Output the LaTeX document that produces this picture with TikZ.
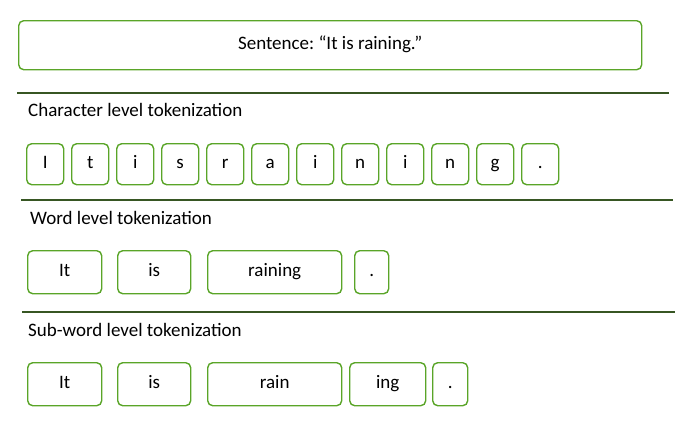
\documentclass[tikz,border=0pt]{standalone}
\usepackage{fontspec}
\setmainfont{Carlito}
\frenchspacing
\definecolor{tokgreen}{RGB}{90,165,40}
\definecolor{rulegreen}{RGB}{55,86,35}
\tikzset{
  tokbox/.style={draw=tokgreen, line width=1.4pt, rounded corners=5pt, fill=white,
    anchor=north west, inner sep=0pt, align=center, text height=12pt, text depth=4pt},
  levellabel/.style={anchor=west, inner sep=0pt},
  levelrule/.style={draw=rulegreen, line width=1.6pt}
}
\begin{document}
\begin{tikzpicture}[x=1pt,y=-1pt,font=\fontsize{19}{22}\selectfont]
\useasboundingbox (0,0) rectangle (700,431);
% Sentence
\node[tokbox, minimum width=623pt, minimum height=49pt] (sentence) at (18,20) {Sentence: “It is raining.”};
% Rules between the levels
\coordinate (ruleAw) at (17,93);  \coordinate (ruleAe) at (669,93);
\coordinate (ruleBw) at (21,200); \coordinate (ruleBe) at (673,200);
\coordinate (ruleCw) at (22,312); \coordinate (ruleCe) at (675,312);
\draw[levelrule] (ruleAw) -- (ruleAe);
\draw[levelrule] (ruleBw) -- (ruleBe);
\draw[levelrule] (ruleCw) -- (ruleCe);
% Character level
\node[levellabel] (charlabel) at (28,110) {Character level tokenization};
\foreach \ch [count=\i from 0] in {I,t,i,s,r,a,i,n,i,n,g,.}
   \node[tokbox, minimum width=37pt, minimum height=41pt] (char\i) at (26+45*\i,143) {\ch};
% Word level
\node[levellabel] (wordlabel) at (30,218) {Word level tokenization};
\node[tokbox, minimum width=74pt, minimum height=43pt] (wordIt) at (27,250) {It};
\node[tokbox, minimum width=73pt, minimum height=43pt] (wordis) at (117,250) {is};
\node[tokbox, minimum width=134pt, minimum height=43pt] (wordraining) at (207,250) {raining};
\node[tokbox, minimum width=34pt, minimum height=43pt] (worddot) at (354,250) {.};
% Sub-word level
\node[levellabel] (sublabel) at (28,330) {Sub-word level tokenization};
\node[tokbox, minimum width=74pt, minimum height=43pt] (subIt) at (27,362) {It};
\node[tokbox, minimum width=73pt, minimum height=43pt] (subis) at (117,362) {is};
\node[tokbox, minimum width=134pt, minimum height=43pt] (subrain) at (207,362) {rain};
\node[tokbox, minimum width=76pt, minimum height=43pt] (subing) at (349,362) {ing};
\node[tokbox, minimum width=35pt, minimum height=43pt] (subdot) at (432,362) {.};
\end{tikzpicture}
\end{document}
